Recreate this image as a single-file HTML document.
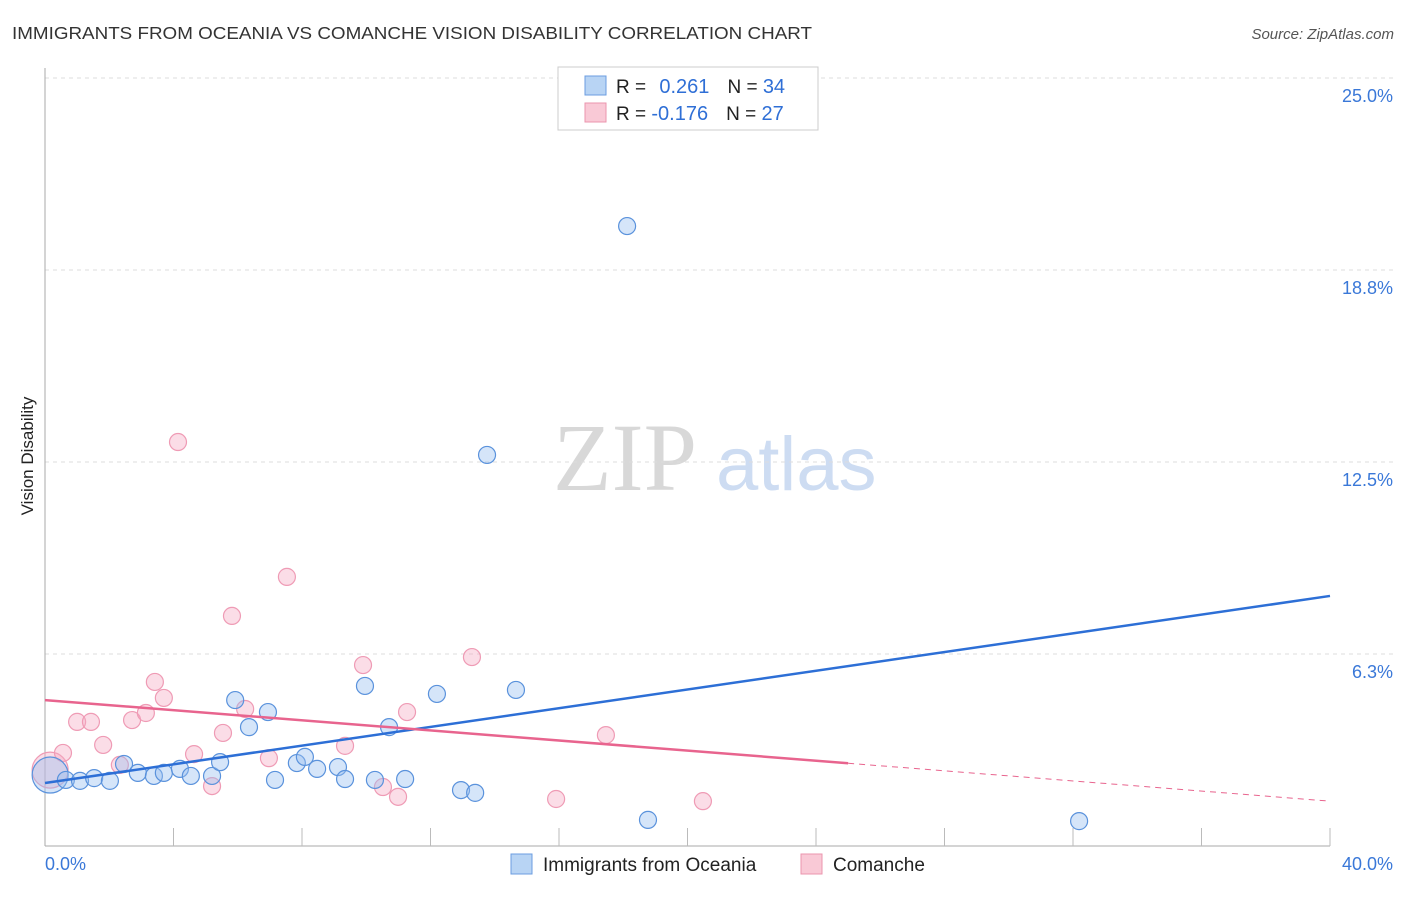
<!DOCTYPE html>
<html><head><meta charset="utf-8"><style>
body{margin:0;background:#fff;font-family:"Liberation Sans",sans-serif}
</style></head><body>
<svg id="c" width="1406" height="892" xmlns="http://www.w3.org/2000/svg" font-family="Liberation Sans, sans-serif">
<text x="12" y="39" font-size="17.5" fill="#333" textLength="800" lengthAdjust="spacingAndGlyphs">IMMIGRANTS FROM OCEANIA VS COMANCHE VISION DISABILITY CORRELATION CHART</text>
<text x="1394" y="39" font-size="15" fill="#555" font-style="italic" text-anchor="end">Source: ZipAtlas.com</text>
<text x="33" y="456" font-size="17" fill="#222" text-anchor="middle" transform="rotate(-90 33 456)">Vision Disability</text>
<text x="553" y="490" font-size="96" fill="#d8d8d8" font-family="Liberation Serif, serif">ZIP</text>
<text x="716" y="490" font-size="76" fill="#cddcf2">atlas</text>
<g id="grid"></g><g id="pts"></g><g id="lines"></g>
<g>
<rect x="558" y="67" width="260" height="63" fill="#fff" stroke="#ccc"/>
<rect x="585" y="76" width="21" height="19" fill="#b8d4f4" stroke="#6b9de0"/>
<rect x="585" y="103" width="21" height="19" fill="#f9c9d6" stroke="#eb95ae"/>
<text x="616" y="93" font-size="19" fill="#222">R = <tspan fill="#2f6fd6" dx="8" font-size="20">0.261</tspan><tspan fill="#222" dx="18">N = </tspan><tspan fill="#2f6fd6" font-size="20">34</tspan></text>
<text x="616" y="120" font-size="19" fill="#222">R = <tspan fill="#2f6fd6" font-size="20">-0.176</tspan><tspan fill="#222" dx="18">N = </tspan><tspan fill="#2f6fd6" font-size="20">27</tspan></text>
</g>
<g>
<rect x="511" y="854" width="21" height="20" fill="#b8d4f4" stroke="#6b9de0"/>
<text x="543" y="871" font-size="19" fill="#222">Immigrants from Oceania</text>
<rect x="801" y="854" width="21" height="20" fill="#f9c9d6" stroke="#eb95ae"/>
<text x="833" y="871" font-size="19" fill="#222">Comanche</text>
</g>
</svg>
<script>
const yTicks=[6.25,12.5,18.75,25];
const yTickLabels=["6.3%","12.5%","18.8%","25.0%"];
const blueX=[0.16,0.65,1.09,1.53,2.02,2.46,2.89,3.39,3.70,4.20,4.54,5.20,5.45,5.92,6.35,6.94,7.16,7.84,8.09,8.47,9.12,9.34,9.96,10.27,10.71,11.21,12.20,12.95,13.39,14.66,18.12,13.76,18.77,32.19];
const blueY=[2.31,2.15,2.12,2.21,2.12,2.67,2.38,2.28,2.38,2.51,2.28,2.28,2.73,4.75,3.87,4.36,2.15,2.70,2.90,2.51,2.57,2.18,5.21,2.15,3.87,2.18,4.95,1.82,1.73,5.08,20.18,12.73,0.85,0.81];
const pinkX=[0.16,0.56,1.00,1.43,1.81,2.33,2.71,3.14,3.42,3.70,4.14,4.64,5.20,5.54,5.82,6.23,6.97,7.53,9.34,9.90,10.52,10.99,11.27,13.29,15.91,17.46,20.48];
const pinkY=[2.47,3.03,4.04,4.04,3.29,2.64,4.10,4.33,5.34,4.82,13.15,2.99,1.95,3.68,7.49,4.46,2.86,8.76,3.26,5.89,1.92,1.60,4.36,6.15,1.53,3.61,1.46];
const blueFit=[2.05,8.14];
const pinkFit=[4.75,1.46];
const pinkSolidEnd=25;
const X=v=>45+v*32.125, Y=v=>846-v*30.72;
const NS="http://www.w3.org/2000/svg";
function mk(t,a,p){const e=document.createElementNS(NS,t);for(const k in a)e.setAttribute(k,a[k]);p.appendChild(e);return e;}
const g=document.getElementById('grid');
yTicks.forEach((t,i)=>{
 const l=mk('line',{x1:45,x2:1394,y1:Y(t),y2:Y(t),stroke:'#ddd','stroke-dasharray':'4,4'},g);
 
 
 const tx=mk('text',{x:1393,y:Y(t)+24,'font-size':18,fill:'#3a78d8','text-anchor':'end'},g);
 tx.textContent=yTickLabels[i];
 
 
});
mk('line',{x1:45,x2:45,y1:68,y2:846,stroke:'#aaa'},g);
mk('line',{x1:45,x2:1330,y1:846,y2:846,stroke:'#aaa'},g);
for(let i=1;i<=10;i++){mk('line',{x1:X(i*4),x2:X(i*4),y1:828,y2:846,stroke:'#bbb'},g);}
const x0=mk('text',{x:45,y:870,'font-size':18,fill:'#3a78d8'},g);x0.textContent='0.0%';


const x1=mk('text',{x:1393,y:870,'font-size':18,fill:'#3a78d8','text-anchor':'end'},g);x1.textContent='40.0%';


const p=document.getElementById('pts');
function pts(xs,ys,fill,st,name){xs.forEach((v,i)=>{
 const c=mk('circle',{cx:X(v),cy:Y(ys[i]),r:i===0?18:8.5,fill:fill,stroke:st,'stroke-width':1.2},p);
 
 
});}
pts(pinkX,pinkY,'rgba(246,170,195,0.4)','#ef9bb5','comanche-point');
pts(blueX,blueY,'rgba(150,190,240,0.4)','#5a92dc','oceania-point');
const L=document.getElementById('lines');
const bl=mk('line',{x1:X(0),y1:Y(blueFit[0]),x2:X(40),y2:Y(blueFit[1]),stroke:'#2d6fd6','stroke-width':2.5},L);


const pm=v=>pinkFit[0]+(pinkFit[1]-pinkFit[0])*v/40;
const pl=mk('line',{x1:X(0),y1:Y(pm(0)),x2:X(pinkSolidEnd),y2:Y(pm(pinkSolidEnd)),stroke:'#e8648e','stroke-width':2.5},L);


const pd=mk('line',{x1:X(pinkSolidEnd),y1:Y(pm(pinkSolidEnd)),x2:X(40),y2:Y(pm(40)),stroke:'#e8648e','stroke-width':1,'stroke-dasharray':'6,5'},L);


</script>
</body></html>
